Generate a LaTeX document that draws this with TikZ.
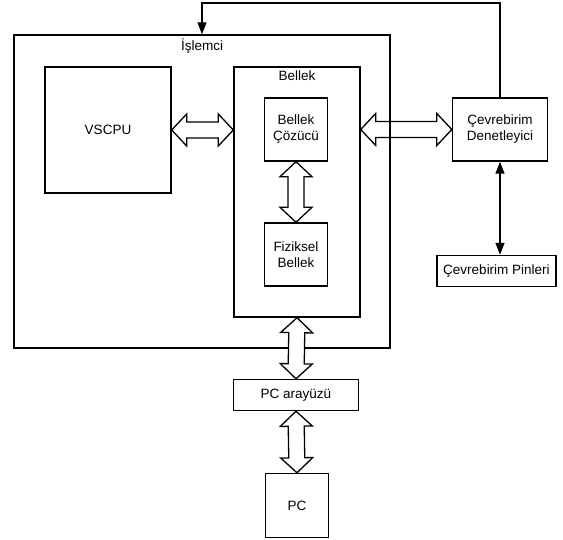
\documentclass[tikz,border=0pt]{standalone}
\usepackage{fontspec}
\setmainfont{Liberation Sans}
\usetikzlibrary{calc, arrows.meta}
\tikzset{box/.style={draw, line width=1.4pt, align=center, inner sep=0pt}}
\tikzset{fat/.style={draw, line width=1.3pt, fill=white, line join=miter}}
\tikzset{link/.style={line width=1.3pt, -{Triangle[length=12pt, width=9pt]}}}
\tikzset{links/.style={line width=1.3pt, {Triangle[length=12pt, width=9pt]}-{Triangle[length=12pt, width=9pt]}}}
\newcommand{\fatarrow}[2]{\draw[fat] (#1)
 -- ($(#1)!15pt!(#2)!16pt!90:(#2)$)
 -- ($(#1)!15pt!(#2)!8pt!90:(#2)$)
 -- ($(#2)!15pt!(#1)!8pt!-90:(#1)$)
 -- ($(#2)!15pt!(#1)!16pt!-90:(#1)$)
 -- (#2)
 -- ($(#2)!15pt!(#1)!16pt!90:(#1)$)
 -- ($(#2)!15pt!(#1)!8pt!90:(#1)$)
 -- ($(#1)!15pt!(#2)!8pt!-90:(#2)$)
 -- ($(#1)!15pt!(#2)!16pt!-90:(#2)$)
 -- cycle}

\begin{document}
\begin{tikzpicture}[x=1pt, y=-1pt, font=\fontsize{13.5}{16}\selectfont]
		\useasboundingbox (0,0) rectangle (563,540);

		% Boxes
		\node[box, minimum width=126pt, minimum height=126pt] (vscpu) at (108,130) {VSCPU};
		\node[box, minimum width=126pt, minimum height=250pt] (bellek) at (297,192) {};
		\node[anchor=north, inner sep=4.5pt] (bellektitle) at (bellek.north) {Bellek};
		\node[box, minimum width=63pt, minimum height=63pt] (cozucu) at (296,129.5) {Bellek\\Çözücü};
		\node[box, minimum width=63pt, minimum height=63pt] (fiziksel) at (296,254.5) {Fiziksel\\Bellek};
		\node[box, minimum width=95pt, minimum height=63pt] (denetleyici) at (500,129.5) {Çevrebirim\\Denetleyici};
		\node[box, minimum width=119pt, minimum height=31pt] (pinler) at (496.5,271) {Çevrebirim Pinleri};
		\node[box, minimum width=125pt, minimum height=31pt] (arayuzu) at (296,395) {PC arayüzü};
		\node[box, minimum width=63pt, minimum height=64pt] (pc) at (297,505.5) {PC};

		% Bus ends on the tall box
		\coordinate (bellekw) at (vscpu.east -| bellek.west);
		\coordinate (bellekf) at (denetleyici.west -| bellek.east);

		% Bus under the frame
		\fatarrow{bellekf}{denetleyici.west};

		% Frame
		\node[box, minimum width=376pt, minimum height=313pt] (islemci) at (202,191.5) {};
		\node[anchor=north, inner sep=4pt] (islemcititle) at (islemci.north) {İşlemci};

		% Buses
		\fatarrow{vscpu.east}{bellekw};
		\fatarrow{cozucu.south}{fiziksel.north};
		\fatarrow{bellek.south}{arayuzu.north};
		\fatarrow{arayuzu.south}{pc.north};

		% Lines
		\coordinate (top) at (202,3);
		\draw[link] (denetleyici.north) |- (top) -- (islemci.north);
		\draw[links] (denetleyici.south) -- (denetleyici.south |- pinler.north);
	\end{tikzpicture}
\end{document}
